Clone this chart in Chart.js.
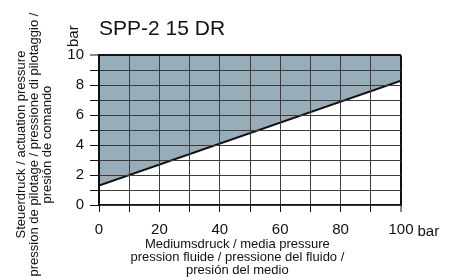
<!DOCTYPE html>
<html>
<head>
<meta charset="utf-8">
<script src="https://cdn.jsdelivr.net/npm/chart.js@4/dist/chart.umd.min.js"></script>
<style>
  html, body { margin: 0; padding: 0; background: #fff; }
  #wrap { width: 464px; height: 277px; }
</style>
</head>
<body>
<div id="wrap"><canvas id="chart" width="464" height="277"></canvas></div>
<script>
// values
const mediaPressure = [0, 100];          // bar
const actuationPressure = [1.3, 8.3];    // bar, lower limit of the shaded area
const xLabelValues = [0, 20, 40, 60, 80, 100];
const yLabelValues = [0, 2, 4, 6, 8, 10];

const chartTitle = 'SPP-2 15 DR';
const unit = 'bar';
const xTitle = [
    'Mediumsdruck / media pressure',
    'pression fluide / pressione del fluido /',
    'presión del medio'
];
const yTitle = [
    'Steuerdruck / actuation pressure',
    'pression de pilotage / pressione di pilotaggio /',
    'presión de comando'
];

const font = 'Liberation Sans, Arial, Helvetica, sans-serif';
const fill = '#98adba';
const gridColor = '#3c3c3c';

// titles sit a little off the centre of the plot in the original
const pad = (lines, n) => lines.map(s => s + ' '.repeat(n));

const points = mediaPressure.map((x, i) => ({ x: x, y: actuationPressure[i] }));

const unitLabels = {
    id: 'unitLabels',
    afterDraw(chart) {
        const ctx = chart.ctx;
        const xs = chart.scales.x;
        const ys = chart.scales.y;
        ctx.save();
        ctx.font = '15px ' + font;
        ctx.fillStyle = '#111';
        ctx.textBaseline = 'middle';
        ctx.textAlign = 'left';
        // "bar" after the last x label
        const last = String(xLabelValues[xLabelValues.length - 1]);
        const px = xs.getPixelForValue(xLabelValues[xLabelValues.length - 1]) + ctx.measureText(last).width / 2 + 4;
        ctx.fillText(unit, px, xs.top + 27);
        // "bar" above the y labels, rotated
        ctx.translate(ys.right - 25, ys.top - 19);
        ctx.rotate(-Math.PI / 2);
        ctx.textAlign = 'center';
        ctx.fillText(unit, 0, 0);
        ctx.restore();
    }
};

new Chart(document.getElementById('chart'), {
    type: 'line',
    data: {
        datasets: [{
            data: points,
            borderColor: '#111',
            borderWidth: 2,
            backgroundColor: fill,
            fill: 'end',
            pointRadius: 0,
            tension: 0
        }]
    },
    options: {
        responsive: false,
        animation: false,
        layout: { padding: { left: 0, right: 63, top: 0, bottom: 0 } },
        plugins: {
            legend: { display: false },
            tooltip: { enabled: false },
            title: {
                display: true,
                text: chartTitle,
                align: 'start',
                fullSize: false,
                color: '#111',
                font: { family: font, size: 21, weight: 'normal', lineHeight: 1.2 },
                padding: { top: 17, bottom: 13 }
            }
        },
        scales: {
            x: {
                type: 'linear',
                min: 0,
                max: 100,
                afterFit: s => { s.height = 72; },
                ticks: {
                    stepSize: 10,
                    autoSkip: false,
                    maxRotation: 0,
                    padding: 9,
                    color: '#111',
                    font: { family: font, size: 15 },
                    callback: v => xLabelValues.includes(v) ? v : ''
                },
                grid: {
                    z: 1,
                    color: c => c.tick && c.tick.value === 100 ? '#111' : gridColor,
                    lineWidth: c => c.tick && c.tick.value === 100 ? 2 : 1,
                    tickLength: 7,
                    tickColor: '#111',
                    tickWidth: 1
                },
                border: { z: 1, color: '#111', width: 2 },
                title: {
                    display: true,
                    text: pad(xTitle, 7),
                    color: '#111',
                    font: { family: font, size: 13, lineHeight: '13px' },
                    padding: { top: 0, bottom: 0 }
                }
            },
            y: {
                min: 0,
                max: 10,
                afterFit: s => { s.width = 99; },
                ticks: {
                    stepSize: 1,
                    autoSkip: false,
                    padding: 6,
                    color: '#111',
                    font: { family: font, size: 15 },
                    callback: v => yLabelValues.includes(v) ? v : ''
                },
                grid: {
                    z: 1,
                    color: c => c.tick && c.tick.value === 10 ? '#111' : gridColor,
                    lineWidth: c => c.tick && c.tick.value === 10 ? 2 : 1,
                    tickLength: 9,
                    tickColor: '#111',
                    tickWidth: 1
                },
                border: { z: 1, color: '#111', width: 2 },
                title: {
                    display: true,
                    text: pad(yTitle, 8),
                    color: '#111',
                    font: { family: font, size: 13, lineHeight: '13px' },
                    padding: { top: 15, bottom: 0 }
                }
            }
        }
    },
    plugins: [unitLabels]
});
</script>
</body>
</html>
